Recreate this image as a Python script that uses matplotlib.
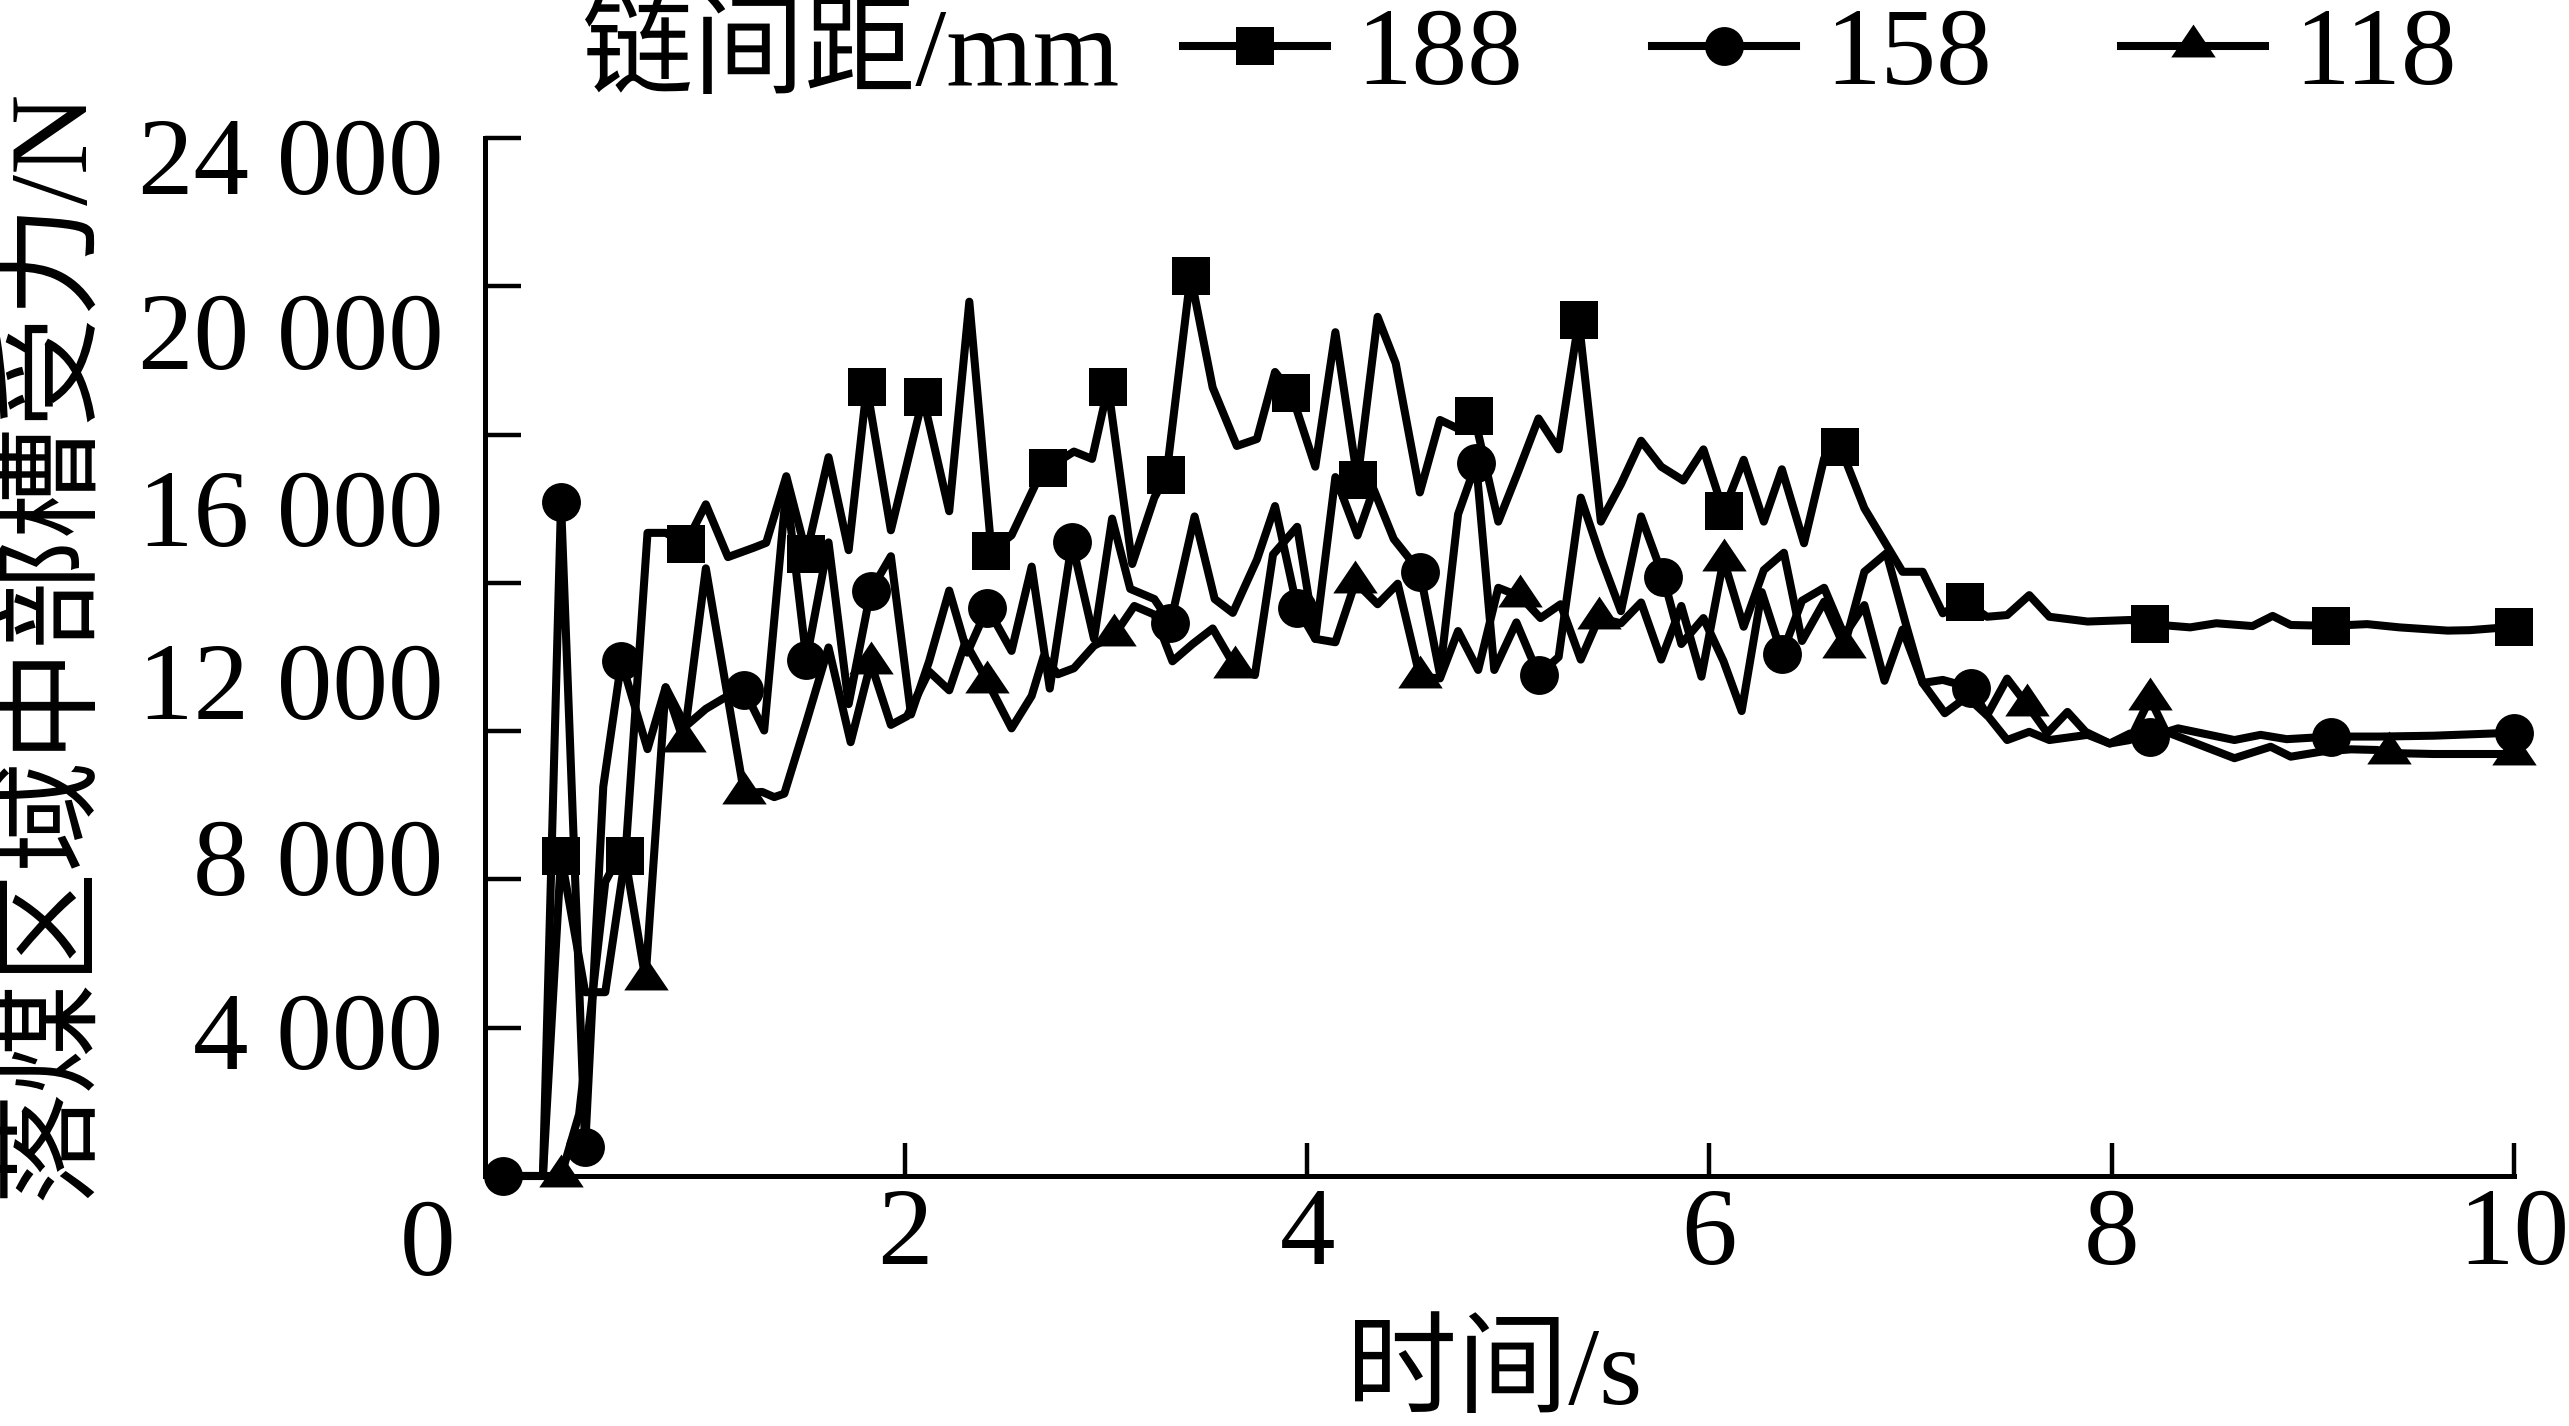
import numpy as np
import matplotlib
matplotlib.use("Agg")
import matplotlib.pyplot as plt
from matplotlib.lines import Line2D

plt.rcParams['font.family'] = ['Liberation Serif', 'Noto Sans CJK SC']

# ---------------- data ----------------
t188 = [0.00, 0.10, 0.20, 0.29, 0.41, 0.51, 0.61, 0.72, 0.81, 0.91,
        1.01, 1.12, 1.25, 1.31, 1.41, 1.51, 1.62, 1.72, 1.81, 1.93,
        2.09, 2.22, 2.32, 2.43, 2.53, 2.65, 2.71, 2.84, 2.93, 3.01,
        3.13, 3.24, 3.30, 3.42, 3.53, 3.65, 3.75, 3.84, 3.92, 4.04,
        4.14, 4.25, 4.35, 4.44, 4.56, 4.66, 4.75, 4.83, 4.95, 5.05,
        5.15, 5.25, 5.35, 5.46, 5.56, 5.66, 5.76, 5.87, 5.97, 6.07,
        6.17, 6.27, 6.36, 6.47, 6.57, 6.65, 6.77, 6.90, 6.96, 7.06,
        7.16, 7.27, 7.38, 7.48, 7.59, 7.69, 7.88, 8.09, 8.19, 8.39,
        8.52, 8.70, 8.80, 8.89, 9.09, 9.27, 9.43, 9.67, 9.78, 10.00]
f188 = [0, 0, 0, 7400, 4250, 4250, 7400, 14870, 14870, 14620,
        15530, 14310, 14530, 14640, 16180, 14380, 16620, 14470, 18240, 14930,
        18000, 15370, 20215, 14450, 14815, 16000, 16365, 16750, 16580, 18240,
        14150, 15685, 16200, 20820, 18230, 16880, 17040, 18590, 18110, 16400,
        19510, 16100, 19865, 18790, 15805, 17480, 17280, 17580, 15130, 16300,
        17515, 16800, 19785, 15130, 16000, 17000, 16400, 16080, 16800, 15370,
        16560, 15130, 16340, 14630, 16590, 16860, 15440, 14435, 13970, 13970,
        13010, 13280, 12930, 12970, 13430, 12930, 12820, 12855, 12760, 12685,
        12780, 12715, 12950, 12740, 12720, 12760, 12685, 12610, 12620, 12700]
mk188 = [0.29, 0.61, 0.91, 1.51, 1.81, 2.09, 2.43, 2.71, 3.01, 3.30, 3.42,
         3.92, 4.25, 4.83, 5.35, 6.07, 6.65, 7.27, 8.19, 9.09, 10.00]

t158 = [0.00, 0.10, 0.20, 0.29, 0.41, 0.50, 0.59, 0.72, 0.81, 0.91,
        1.01, 1.10, 1.20, 1.30, 1.41, 1.51, 1.62, 1.72, 1.83, 1.93,
        2.03, 2.12, 2.22, 2.31, 2.41, 2.53, 2.63, 2.72, 2.83, 2.94,
        3.03, 3.12, 3.24, 3.32, 3.44, 3.54, 3.63, 3.75, 3.84, 3.95,
        4.04, 4.14, 4.25, 4.33, 4.43, 4.56, 4.66, 4.75, 4.84, 4.93,
        5.04, 5.15, 5.25, 5.36, 5.46, 5.56, 5.66, 5.77, 5.86, 5.97,
        6.07, 6.16, 6.26, 6.36, 6.46, 6.57, 6.67, 6.77, 6.87, 6.96,
        7.06, 7.16, 7.30, 7.38, 7.48, 7.59, 7.69, 7.88, 7.99, 8.09,
        8.19, 8.33, 8.61, 8.74, 8.87, 9.09, 9.33, 9.60, 10.00]
f158 = [0, 0, 0, 15580, 680, 9000, 11900, 9870, 11300, 10400,
        10800, 11050, 11240, 10300, 15900, 11940, 14650, 10910, 13535, 14330,
        10670, 11900, 13535, 12100, 13140, 12140, 14090, 11270, 14650, 12420,
        15200, 13575, 13340, 12780, 15250, 13340, 13020, 14250, 15490, 13140,
        12420, 16160, 14810, 15880, 14730, 13970, 11600, 15300, 16480, 11700,
        12800, 11585, 12000, 15685, 14300, 13060, 15250, 13850, 12300, 12900,
        11900, 10750, 13500, 12060, 13300, 13600, 12500, 13200, 11450, 12635,
        11400, 11470, 11290, 10660, 10080, 10270, 10080, 10200, 10000, 10230,
        10150, 10350, 10080, 10200, 10100, 10160, 10160, 10180, 10250]
mk158 = [0.00, 0.29, 0.41, 0.59, 1.20, 1.51, 1.83, 2.41, 2.83, 3.32,
         3.95, 4.56, 4.84, 5.15, 5.77, 6.36, 7.30, 8.19, 9.09, 10.00]

t118 = [0.00, 0.10, 0.20, 0.29, 0.38, 0.51, 0.60, 0.71, 0.81, 0.90,
        1.01, 1.20, 1.29, 1.35, 1.40, 1.51, 1.62, 1.73, 1.83, 1.93,
        2.01, 2.12, 2.22, 2.30, 2.41, 2.53, 2.63, 2.69, 2.76, 2.84,
        2.94, 3.04, 3.14, 3.24, 3.33, 3.43, 3.53, 3.64, 3.74, 3.83,
        3.95, 4.04, 4.14, 4.24, 4.35, 4.45, 4.56, 4.66, 4.75, 4.85,
        4.95, 5.06, 5.16, 5.26, 5.36, 5.45, 5.56, 5.66, 5.76, 5.86,
        5.96, 6.07, 6.17, 6.27, 6.37, 6.46, 6.57, 6.67, 6.77, 6.88,
        6.98, 7.06, 7.17, 7.28, 7.38, 7.48, 7.58, 7.68, 7.78, 7.87,
        7.99, 8.09, 8.19, 8.27, 8.61, 8.79, 8.89, 9.04, 9.19, 9.32,
        9.38, 9.60, 10.00]
f118 = [0, 0, 0, 0, 1430, 6800, 7600, 4550, 11300, 10050,
        14050, 8855, 8880, 8760, 8840, 10500, 12220, 10030, 11860, 10430,
        10630, 11665, 11230, 12340, 11430, 10350, 11100, 12020, 11600, 11740,
        12260, 12500, 13180, 12980, 11900, 12300, 12660, 11780, 11585, 14370,
        15010, 12420, 12340, 13735, 13220, 13695, 11545, 11505, 12600, 11700,
        13600, 13400, 12900, 13220, 11940, 12900, 12780, 13260, 11940, 13180,
        11545, 14250, 12700, 14010, 14410, 12370, 13280, 12240, 13970, 14400,
        12700, 11400, 10700, 11080, 10650, 11500, 10890, 10240, 10730, 10270,
        10000, 10080, 11040, 10270, 9660, 9925, 9695, 9810, 9865, 9850,
        9780, 9757, 9757]
mk118 = [0.29, 0.71, 0.90, 1.20, 1.83, 2.41, 3.04, 3.64, 4.24, 4.56,
         5.06, 5.45, 6.07, 6.67, 7.58, 8.19, 9.38, 10.00]

series_labels = ['188', '158', '118']
legend_title = '链间距/mm'
x_label = '时间/s'
y_label = '落煤区域中部槽受力/N'
x_ticks = [2, 4, 6, 8, 10]
y_tick_labels = ['24 000', '20 000', '16 000', '12 000', '8 000', '4 000']

# ---------------- layout / style ----------------
FS = 80
LW = 5.8
tri = [(-1.0, -0.493), (1.0, -0.493), (0.0, 0.987)]
styles = [dict(marker='s', ms=27), dict(marker='o', ms=28), dict(marker=tri, ms=32)]

fig = plt.figure(figsize=(25.69, 14.26), dpi=100)
ax = fig.add_axes([0.18879, 0.17532, 0.78980, 0.72791])

series = [(t188, f188, mk188), (t158, f158, mk158), (t118, f118, mk118)]
handles = []
for (t, f, mk), st in zip(series, styles):
    t = np.asarray(t)
    idx = np.flatnonzero(np.isin(np.round(t, 2), np.round(mk, 2))).tolist()
    ax.plot(t, f, color='black', lw=LW, markevery=idx, mec='black', mfc='black',
            mew=0, clip_on=False, solid_joinstyle='round', **st)
    handles.append(Line2D([], [], color='black', lw=LW, mec='black', mfc='black',
                          mew=0, **st))

ax.set_xlim(-0.088, 10)
ax.set_ylim(0, 24000)

for s in ['top', 'right']:
    ax.spines[s].set_visible(False)
for s in ['left', 'bottom']:
    ax.spines[s].set_linewidth(3.6)

ax.set_xticks(x_ticks)
ax.set_xticklabels([str(v) for v in x_ticks])
ax.tick_params(axis='x', direction='in', length=24, width=3.2, labelsize=FS, pad=8)

# label positions (the reference's labels sit on a different spacing than its tick marks)
ylab_pos = [23594, 19548, 15460, 11451, 7381, 3369]
ax.set_yticks(ylab_pos)
ax.set_yticklabels(y_tick_labels)
ax.tick_params(axis='y', which='major', length=0, labelsize=FS, pad=30)
ax.set_yticks(np.linspace(0, 24000, 8), minor=True)
ax.tick_params(axis='y', which='minor', direction='in', length=26, width=3.2)

ax.text(-0.374, -1665, '0', ha='center', va='center', fontsize=FS, clip_on=False)

ax.set_xlabel(x_label, fontsize=FS)
ax.xaxis.label.set_va('center')
ax.xaxis.set_label_coords(0.4973, -0.1927)
ax.set_ylabel(y_label, fontsize=FS)
ax.yaxis.label.set_va('center')
ax.yaxis.set_label_coords(-0.2124, 0.5125)

fig.text(0.2264, 0.96, legend_title, ha='left', va='center', fontsize=FS)
fig.legend(handles, series_labels, loc='center left', bbox_to_anchor=(0.4605, 0.96),
           ncol=3, frameon=False, handlelength=1.30, handletextpad=0.26,
           columnspacing=1.16, borderpad=0, borderaxespad=0, fontsize=FS, numpoints=1)

fig.savefig('out.png', dpi=100)
